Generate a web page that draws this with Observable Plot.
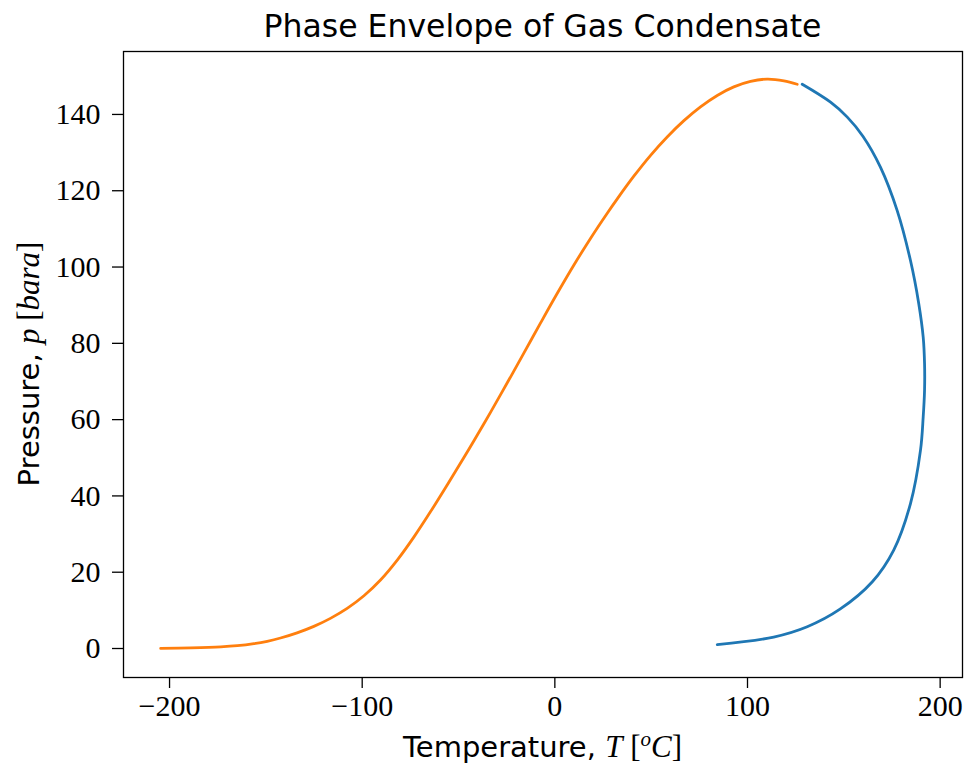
<!DOCTYPE html>
<html>
<head>
<meta charset="utf-8">
<script src="https://cdn.jsdelivr.net/npm/d3@7"></script>
<script src="https://cdn.jsdelivr.net/npm/@observablehq/plot@0.6"></script>
<style>
  body { margin: 0; background: #fff; }
  #chart svg { display: block; }
</style>
</head>
<body>
<div id="chart"></div>
<script>
// Bubble-point curve (orange), temperature in °C and pressure in bara
const bubbleT = [-204.6, -189.0, -173.4, -164.8, -156.2, -149.3, -142.4, -133.8, -125.1, -116.5, -107.8, -99.1, -90.5, -81.8, -73.2, -64.5, -55.8, -47.2, -42.0, -33.4, -24.7, -16.1, -7.4, 1.2, 9.9, 18.5, 27.2, 32.4, 41.0, 49.7, 58.3, 67.0, 75.6, 84.3, 92.9, 101.6, 110.2, 118.9, 125.8];
const bubbleP = [0.03, 0.17, 0.43, 0.73, 1.27, 1.9, 2.75, 4.1, 5.8, 7.9, 10.51, 13.82, 17.95, 23.17, 29.19, 35.89, 42.94, 50.08, 54.47, 61.91, 69.65, 77.43, 85.35, 93.05, 100.53, 107.5, 114.11, 117.88, 123.81, 129.29, 134.11, 138.37, 141.98, 144.98, 147.22, 148.66, 149.26, 148.82, 147.92];
// Dew-point curve (blue)
const dewT = [128.4, 143.1, 151.8, 159.9, 169.0, 177.7, 184.6, 188.9, 191.2, 191.9, 191.9, 191.2, 189.8, 184.6, 175.9, 164.8, 148.0, 131.0, 113.6, 84.3];
const dewP = [147.9, 143.2, 139.3, 134.3, 126.2, 114.8, 101.7, 90.4, 81.6, 74.7, 67.7, 60.7, 52.0, 38.0, 25.8, 17.5, 10.3, 5.7, 3.0, 1.0];

const xTicks = [-200, -100, 0, 100, 200];
const yTicks = [0, 20, 40, 60, 80, 100, 120, 140];
const titleText = "Phase Envelope of Gas Condensate";

const bubble = bubbleT.map((t, i) => ({T: t, p: bubbleP[i]}));
const dew = dewT.map((t, i) => ({T: t, p: dewP[i]}));

const W = 964, H = 769;
const mL = 123, mR = 2, mT = 51, mB = 92;

const chart = Plot.plot({
  width: W,
  height: H,
  marginLeft: mL,
  marginRight: mR,
  marginTop: mT,
  marginBottom: mB,
  style: {fontFamily: "'Liberation Serif', serif", fontSize: "30px", color: "#000", background: "#fff"},
  x: {domain: [-223.9, 211.6]},
  y: {domain: [-7.6, 156.5]},
  marks: [
    Plot.line(dew, {x: "T", y: "p", stroke: "#1f77b4", strokeWidth: 2.8, curve: "catmull-rom"}),
    Plot.line(bubble, {x: "T", y: "p", stroke: "#ff7f0e", strokeWidth: 2.8, curve: "catmull-rom"}),
    Plot.frame({stroke: "#000", strokeWidth: 1.3}),
    Plot.axisX({ticks: xTicks, tickSize: 11, tickPadding: 6, label: null, strokeWidth: 1.3}),
    Plot.axisY({ticks: yTicks, tickSize: 11, tickPadding: 12, label: null, strokeWidth: 1.3})
  ]
});

document.getElementById("chart").appendChild(chart);

const svg = d3.select(chart);
const sans = "'DejaVu Sans', sans-serif";
const serif = "'Liberation Serif', serif";
const cx = mL + (W - mL - mR) / 2;
const cy = mT + (H - mT - mB) / 2;

// Title
svg.append("text")
  .attr("x", cx).attr("y", 37)
  .attr("text-anchor", "middle")
  .style("font-family", sans).style("font-size", "31.5px").attr("fill", "#000")
  .text(titleText);

// X label
const xl = svg.append("text")
  .attr("x", cx).attr("y", 757)
  .attr("text-anchor", "middle")
  .attr("fill", "#000").style("font-size", "29px");
xl.append("tspan").style("font-family", sans).text("Temperature, ");
xl.append("tspan").style("font-family", serif).style("font-style", "italic").style("font-size", "31px").text("T");
xl.append("tspan").style("font-family", serif).style("font-size", "31px").text(" [");
xl.append("tspan").style("font-family", serif).style("font-style", "italic").style("font-size", "21px").attr("dy", "-11").text("o");
xl.append("tspan").style("font-family", serif).style("font-style", "italic").style("font-size", "31px").attr("dy", "11").text("C");
xl.append("tspan").style("font-family", serif).style("font-size", "31px").text("]");

// Y label
const yl = svg.append("text")
  .attr("transform", `translate(39,${cy}) rotate(-90)`)
  .attr("text-anchor", "middle")
  .attr("fill", "#000").style("font-size", "29px");
yl.append("tspan").style("font-family", sans).text("Pressure, ");
yl.append("tspan").style("font-family", serif).style("font-style", "italic").style("font-size", "31px").text("p");
yl.append("tspan").style("font-family", serif).style("font-size", "31px").text(" [");
yl.append("tspan").style("font-family", serif).style("font-style", "italic").style("font-size", "31px").text("bara");
yl.append("tspan").style("font-family", serif).style("font-size", "31px").text("]");
</script>
</body>
</html>
